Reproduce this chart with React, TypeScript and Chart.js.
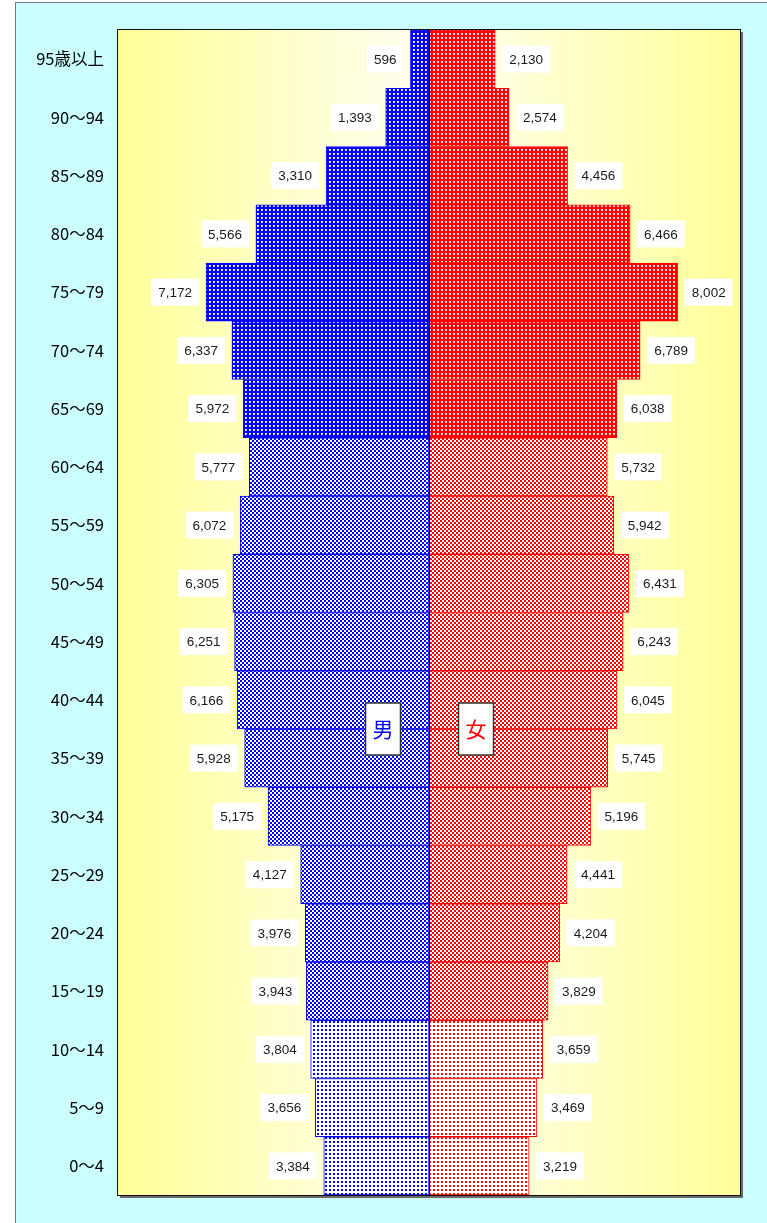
import React, { useEffect, useRef } from "react";
import { Chart, registerables } from "chart.js";

Chart.register(...registerables);

const ageLabels = [
  "95歳以上", "90～94", "85～89", "80～84", "75～79", "70～74", "65～69",
  "60～64", "55～59", "50～54", "45～49", "40～44", "35～39", "30～34",
  "25～29", "20～24", "15～19", "10～14", "5～9", "0～4",
];
const maleValues = [596, 1393, 3310, 5566, 7172, 6337, 5972, 5777, 6072, 6305, 6251, 6166, 5928, 5175, 4127, 3976, 3943, 3804, 3656, 3384];
const femaleValues = [2130, 2574, 4456, 6466, 8002, 6789, 6038, 5732, 5942, 6431, 6243, 6045, 5745, 5196, 4441, 4204, 3829, 3659, 3469, 3219];
// pattern group per row: 0 = 65+, 1 = 15-64, 2 = 0-14
const ageGroup = [0, 0, 0, 0, 0, 0, 0, 1, 1, 1, 1, 1, 1, 1, 1, 1, 1, 2, 2, 2];

function makePattern(kind: number, color: string, light: string): CanvasPattern | string {
  const c = document.createElement("canvas");
  c.width = 4;
  c.height = 4;
  const g = c.getContext("2d");
  if (!g) return color;
  if (kind === 0) {
    g.fillStyle = color;
    g.fillRect(0, 0, 4, 4);
    g.fillStyle = light;
    g.fillRect(1, 1, 2, 2);
    g.fillStyle = "#ffffff";
    g.fillRect(1, 1, 2, 1);
    g.fillRect(1, 2, 1, 1);
  } else if (kind === 1) {
    g.fillStyle = "#ffffff";
    g.fillRect(0, 0, 4, 4);
    g.fillStyle = color;
    g.fillRect(0, 0, 2, 2);
    g.fillRect(2, 2, 2, 2);
  } else {
    g.fillStyle = "#ffffff";
    g.fillRect(0, 0, 4, 4);
    g.fillStyle = color;
    g.fillRect(1, 1, 2, 2);
  }
  const p = g.createPattern(c, "repeat");
  return p || color;
}

export default function App() {
  const ref = useRef<HTMLCanvasElement | null>(null);

  useEffect(() => {
    if (!ref.current) return;
    const bluePats = [0, 1, 2].map((k) => makePattern(k, "#0000ff", "#9999ff"));
    const redPats = [0, 1, 2].map((k) => makePattern(k, "#ff0000", "#ff9999"));

    const bgPlugin = {
      id: "bgPlugin",
      beforeDatasetsDraw(chart: any) {
        const { ctx, chartArea } = chart;
        const { left, top, right, bottom } = chartArea;
        ctx.save();
        ctx.fillStyle = "#6a6a6a";
        ctx.fillRect(left + 2, top + 2, right - left + 1, bottom - top + 1);
        const grad = ctx.createLinearGradient(left, 0, right, 0);
        grad.addColorStop(0, "#ffff99");
        grad.addColorStop(0.5, "#fffff2");
        grad.addColorStop(1, "#ffff99");
        ctx.fillStyle = grad;
        ctx.fillRect(left, top, right - left, bottom - top);
        ctx.restore();
      },
      afterDatasetsDraw(chart: any) {
        const { ctx, chartArea, scales } = chart;
        const { left, top, right, bottom } = chartArea;
        const xs = scales.x;
        const ys = scales.y;
        const cx = xs.getPixelForValue(0);
        ctx.save();
        // centre line
        ctx.strokeStyle = "#000000";
        ctx.lineWidth = 1;
        ctx.beginPath();
        ctx.moveTo(Math.round(cx) + 0.5, top);
        ctx.lineTo(Math.round(cx) + 0.5, bottom);
        ctx.stroke();
        // plot border
        ctx.strokeStyle = "#111111";
        ctx.lineWidth = 1;
        ctx.strokeRect(left - 0.5, top - 0.5, right - left + 1, bottom - top + 1);

        // value labels
        ctx.font = "13.5px 'Liberation Sans', Arial, sans-serif";
        ctx.textBaseline = "middle";
        ctx.textAlign = "center";
        const drawLabel = (v: number, i: number, side: number) => {
          const y = ys.getPixelForValue(i);
          const edge = xs.getPixelForValue(side * v);
          const txt = v.toLocaleString("en-US");
          const w = ctx.measureText(txt).width + 14;
          const h = 27;
          const bx = side < 0 ? edge - 7 - w : edge + 7;
          ctx.fillStyle = "#ffffff";
          ctx.fillRect(bx, y - h / 2, w, h);
          ctx.fillStyle = "#1a1a1a";
          ctx.fillText(txt, bx + w / 2, y + 1);
        };
        maleValues.forEach((v, i) => drawLabel(v, i, -1));
        femaleValues.forEach((v, i) => drawLabel(v, i, 1));

        // 男 / 女 boxes on boundary between 40～44 and 35～39
        const yb = (ys.getPixelForValue(11) + ys.getPixelForValue(12)) / 2;
        const boxes = [
          { t: "男", c: "#0000ff", cxp: cx - 46 },
          { t: "女", c: "#ff0000", cxp: cx + 47 },
        ];
        ctx.font = "21px 'Noto Sans CJK JP', sans-serif";
        boxes.forEach((b) => {
          const bw = 35;
          const bh = 52;
          ctx.fillStyle = "#ffffff";
          ctx.fillRect(b.cxp - bw / 2, yb - bh / 2, bw, bh);
          ctx.strokeStyle = "#333333";
          ctx.lineWidth = 1.5;
          ctx.strokeRect(b.cxp - bw / 2, yb - bh / 2, bw, bh);
          ctx.fillStyle = b.c;
          ctx.fillText(b.t, b.cxp, yb);
        });
        ctx.restore();
      },
    };

    const chart = new Chart(ref.current, {
      type: "bar",
      data: {
        labels: ageLabels,
        datasets: [
          {
            label: "男",
            data: maleValues.map((v) => -v),
            backgroundColor: ageGroup.map((g) => bluePats[g]) as any,
            borderColor: "#0000ff",
            borderWidth: 1,
            borderSkipped: false,
            barPercentage: 1,
            categoryPercentage: 1,
          },
          {
            label: "女",
            data: femaleValues,
            backgroundColor: ageGroup.map((g) => redPats[g]) as any,
            borderColor: "#ff0000",
            borderWidth: 1,
            borderSkipped: false,
            barPercentage: 1,
            categoryPercentage: 1,
          },
        ],
      },
      options: {
        indexAxis: "y",
        responsive: false,
        animation: false,
        layout: { padding: { left: 0, right: 27, top: 30, bottom: 28 } },
        plugins: {
          legend: { display: false },
          tooltip: { enabled: false },
        },
        scales: {
          x: {
            display: false,
            stacked: true,
            min: -10000,
            max: 10000,
          },
          y: {
            stacked: true,
            grid: { display: false, drawTicks: false },
            border: { display: false },
            ticks: {
              color: "#000000",
              padding: 14,
              font: { family: "'Noto Sans CJK JP', sans-serif", size: 16.5 },
            },
            afterFit: (scale: any) => {
              scale.width = 118;
            },
          },
        },
      },
      plugins: [bgPlugin],
    });
    return () => chart.destroy();
  }, []);

  return (
    <div>
      <div
        style={{
          position: "absolute",
          left: 15,
          top: 2,
          width: 800,
          height: 1260,
          background: "#ccffff",
          border: "1px solid #777777",
          boxSizing: "border-box",
        }}
      />
      <canvas
        ref={ref}
        width={767}
        height={1223}
        style={{ position: "absolute", left: 0, top: 0, width: 767, height: 1223 }}
      />
    </div>
  );
}
